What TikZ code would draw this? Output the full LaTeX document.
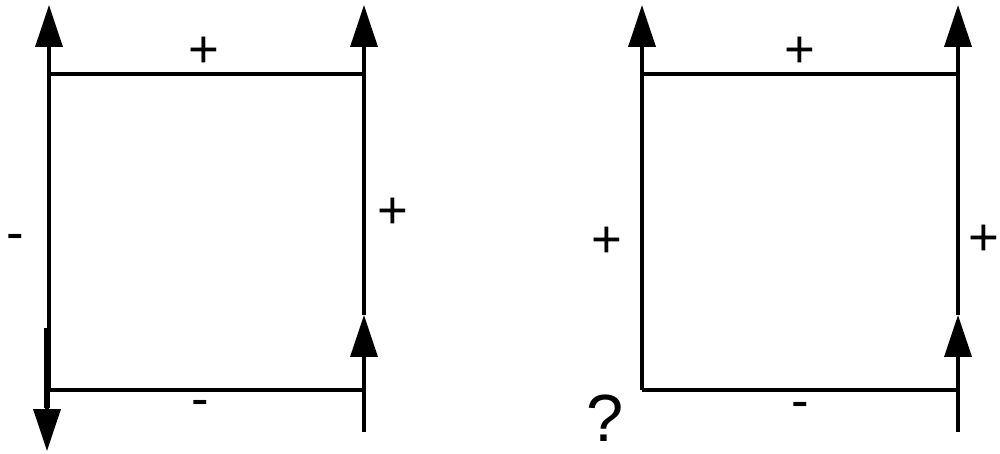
\documentclass[tikz,border=0pt]{standalone}
\usepackage{fontspec}
\setmainfont{Liberation Sans}
\usetikzlibrary{arrows.meta}
\tikzset{
  edge/.style={line width=2.1pt, draw=black},
  arrowUp/.style={edge, -{Triangle[length=8.4mm, width=5.4mm]}},
  sign/.style={font=\fontsize{30}{34}\selectfont, inner sep=0pt},
  query/.style={font=\fontsize{38}{44}\selectfont, inner sep=0pt}
}
\begin{document}
\begin{tikzpicture}[x=0.02cm, y=-0.02cm]
\useasboundingbox (0,0) rectangle (1000,453);

% Left loop
\coordinate (lTL) at (49,74);
\coordinate (lTR) at (364,74);
\coordinate (lBL) at (49,390);
\coordinate (lBR) at (364,390);
\coordinate (lTopL) at (49,5);
\coordinate (lTopR) at (364,5);
\coordinate (lEndR) at (364,432);
\coordinate (lMidR) at (364,315);
\coordinate (lBar) at (47,328);
\coordinate (lBarEnd) at (47,408);
\coordinate (lDown) at (47,451);

\draw[edge] (lTL) -- (lTR);
\draw[edge] (lBL) -- (lBR);
\draw[arrowUp] (lBL) -- (lTopL);
\draw[edge, line width=3pt] (lBar) -- (lBarEnd);
\draw[arrowUp] (lBarEnd) -- (lDown);
\draw[arrowUp] (lEndR) -- (lMidR);
\draw[arrowUp] (lMidR) -- (lTopR);

\node[sign] (lTop) at (204,52) {+};
\node[sign] (lRight) at (393,213) {+};
\node[sign] (lLeft) at (15,242) {-};
\node[sign] (lBottom) at (200,408) {-};

% Right loop
\coordinate (rTL) at (642,74);
\coordinate (rTR) at (958,74);
\coordinate (rBL) at (642,390);
\coordinate (rBR) at (958,390);
\coordinate (rTopL) at (642,5);
\coordinate (rTopR) at (958,5);
\coordinate (rEndR) at (958,432);
\coordinate (rMidR) at (958,315);

\draw[edge] (rTL) -- (rTR);
\draw[edge] (rBL) -- (rBR);
\draw[arrowUp] (rBL) -- (rTopL);
\draw[arrowUp] (rEndR) -- (rMidR);
\draw[arrowUp] (rMidR) -- (rTopR);

\node[sign] (rTop) at (800,52) {+};
\node[sign] (rLeft) at (607,242) {+};
\node[sign] (rRight) at (984,240) {+};
\node[sign] (rBottom) at (800,410) {-};
\node[query] (rQuery) at (605,418) {?};

\end{tikzpicture}
\end{document}
